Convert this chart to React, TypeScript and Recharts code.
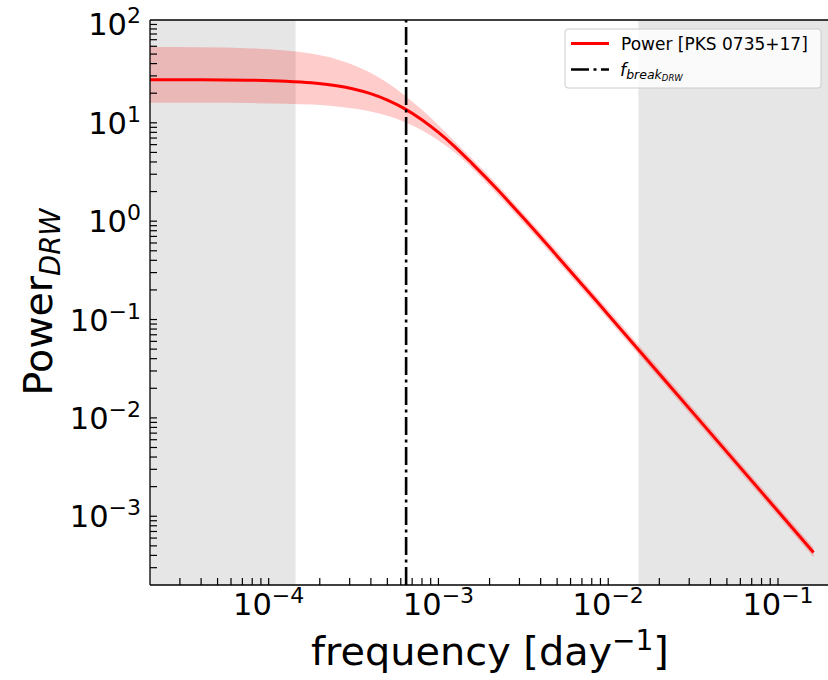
import React from "react";
import {
  ComposedChart,
  Area,
  Line,
  XAxis,
  YAxis,
  ReferenceArea,
  ReferenceLine,
} from "recharts";

// ---- data ----
const freq = [
  2.0e-5, 3.98e-5, 7.94e-5, 1.26e-4, 1.78e-4, 2.51e-4, 3.16e-4, 3.98e-4, 5.01e-4,
  6.31e-4, 7.94e-4, 1.0e-3, 1.26e-3, 1.58e-3, 2.24e-3, 3.16e-3, 5.01e-3, 1.0e-2,
  3.16e-2, 1.0e-1, 1.62e-1,
];
const power = [
  27.47, 27.39, 27.08, 26.47, 25.53, 23.83, 22.1, 19.82, 17.04, 13.94, 10.82, 7.99,
  5.64, 3.85, 2.075, 1.081, 0.441, 0.1121, 0.01125, 0.001125, 0.000428,
];
const powerUpper = [
  58.9, 58.5, 57.1, 54.5, 50.6, 44.4, 38.7, 32.2, 25.5, 19.1, 13.7, 9.46, 6.35,
  4.32, 2.32, 1.21, 0.494, 0.1256, 0.0126, 0.00126, 0.000479,
];
const powerLower = [
  16.0, 15.96, 15.86, 15.65, 15.31, 14.69, 14.01, 13.06, 11.8, 10.22, 8.44, 6.61,
  4.93, 3.44, 1.85, 0.965, 0.394, 0.1001, 0.01005, 0.001005, 0.000382,
];

const fBreak = 6.45e-4;
const lowGrayRange = [2.0e-5, 1.44e-4];
const highGrayRange = [0.01506, 0.197];

const xDomain = [2.0e-5, 0.197];
const yDomain = [2.0e-4, 111];

const xMajorTicks = [1e-4, 1e-3, 1e-2, 1e-1];
const xMajorLabels = ["−4", "−3", "−2", "−1"];
const xMinorTicks = [
  3e-5, 4e-5, 5e-5, 6e-5, 7e-5, 8e-5, 9e-5,
  2e-4, 3e-4, 4e-4, 5e-4, 6e-4, 7e-4, 8e-4, 9e-4,
  2e-3, 3e-3, 4e-3, 5e-3, 6e-3, 7e-3, 8e-3, 9e-3,
  2e-2, 3e-2, 4e-2, 5e-2, 6e-2, 7e-2, 8e-2, 9e-2,
];
const yMajorTicks = [1e-3, 1e-2, 1e-1, 1, 10, 100];
const yMajorLabels = ["−3", "−2", "−1", "0", "1", "2"];
const yMinorTicks = [
  3e-4, 4e-4, 5e-4, 6e-4, 7e-4, 8e-4, 9e-4,
  2e-3, 3e-3, 4e-3, 5e-3, 6e-3, 7e-3, 8e-3, 9e-3,
  2e-2, 3e-2, 4e-2, 5e-2, 6e-2, 7e-2, 8e-2, 9e-2,
  2e-1, 3e-1, 4e-1, 5e-1, 6e-1, 7e-1, 8e-1, 9e-1,
  2, 3, 4, 5, 6, 7, 8, 9,
  20, 30, 40, 50, 60, 70, 80, 90,
];

const legendLabels = ["Power [PKS 0735+17]", "f", "break", "DRW"];
const xLabel = ["frequency [day", "−1", "]"];
const yLabel = ["Power", "DRW"];

const data = freq.map((f, i) => ({
  f,
  p: power[i],
  band: [powerLower[i], powerUpper[i]],
}));

const FONT = "DejaVu Sans";
const W = 828;
const H = 680;

const xTicks = [...xMajorTicks, ...xMinorTicks].sort((a, b) => a - b);
const yTicks = [...yMajorTicks, ...yMinorTicks].sort((a, b) => a - b);

const findMajor = (arr: number[], v: number) =>
  arr.findIndex((m) => Math.abs(m - v) / m < 1e-9);

const XTick = (props: any) => {
  const { x, y, payload } = props;
  const mi = findMajor(xMajorTicks, payload.value);
  return (
    <g>
      <line x1={x} x2={x} y1={y} y2={y - 7} stroke="#000" strokeWidth={1.2} />
      {mi >= 0 && (
        <text
          x={x}
          y={y + 30}
          textAnchor="middle"
          fontSize={30.5}
          fontFamily={FONT}
          fill="#000"
        >
          10
          <tspan fontSize={22} dy={-12}>
            {xMajorLabels[mi]}
          </tspan>
        </text>
      )}
    </g>
  );
};

const YTick = (props: any) => {
  const { x, y, payload } = props;
  const mi = findMajor(yMajorTicks, payload.value);
  return (
    <g>
      <line x1={x} x2={x + 7} y1={y} y2={y} stroke="#000" strokeWidth={1.2} />
      {mi >= 0 && (
        <text
          x={x - 9}
          y={y + 11}
          textAnchor="end"
          fontSize={30.5}
          fontFamily={FONT}
          fill="#000"
        >
          10
          <tspan fontSize={22} dy={-12}>
            {yMajorLabels[mi]}
          </tspan>
        </text>
      )}
    </g>
  );
};

export default function App() {
  return (
    <div
      style={{
        position: "absolute",
        left: 0,
        top: 0,
        width: W,
        height: H,
        overflow: "hidden",
        background: "#ffffff",
      }}
    >
      <style>{`html, body { margin: 0; padding: 0; overflow: hidden; }`}</style>
      <ComposedChart
        width={W}
        height={H}
        data={data}
        margin={{ top: 20, right: 0, bottom: 0, left: 8 }}
      >
        <XAxis
          dataKey="f"
          type="number"
          scale="log"
          domain={xDomain}
          allowDataOverflow
          ticks={xTicks}
          interval={0}
          height={95}
          tickLine={false}
          tickSize={0}
          tickMargin={0}
          tick={(p: any) => <XTick {...p} />}
          axisLine={{ stroke: "#000", strokeWidth: 1.3 }}
        />
        <YAxis
          type="number"
          scale="log"
          domain={yDomain}
          allowDataOverflow
          ticks={yTicks}
          interval={0}
          width={142}
          tickLine={false}
          tickSize={0}
          tickMargin={0}
          tick={(p: any) => <YTick {...p} />}
          axisLine={{ stroke: "#000", strokeWidth: 1.3 }}
        />
        <ReferenceArea
          x1={lowGrayRange[0]}
          x2={lowGrayRange[1]}
          y1={yDomain[0]}
          y2={yDomain[1]}
          fill="#808080"
          fillOpacity={0.2}
          stroke="none"
          ifOverflow="hidden"
        />
        <ReferenceArea
          x1={highGrayRange[0]}
          x2={highGrayRange[1]}
          y1={yDomain[0]}
          y2={yDomain[1]}
          fill="#808080"
          fillOpacity={0.2}
          stroke="none"
          ifOverflow="hidden"
        />
        <Area
          dataKey="band"
          type="monotone"
          fill="#ff0000"
          fillOpacity={0.2}
          stroke="none"
          isAnimationActive={false}
          dot={false}
          activeDot={false}
        />
        <Line
          dataKey="p"
          type="monotone"
          stroke="#ff0000"
          strokeWidth={3}
          dot={false}
          activeDot={false}
          isAnimationActive={false}
        />
        <ReferenceLine
          x={fBreak}
          stroke="#000"
          strokeWidth={2.6}
          strokeDasharray="18 4.5 3 4.5"
        />
        <ReferenceLine y={yDomain[1]} stroke="#000" strokeWidth={1.3} />
      </ComposedChart>
      <svg
        width={W}
        height={H}
        style={{ position: "absolute", left: 0, top: 0, pointerEvents: "none" }}
      >
        {/* x axis label */}
        <text
          x={490}
          y={665}
          textAnchor="middle"
          fontSize={39.8}
          fontFamily={FONT}
          fill="#000"
        >
          {xLabel[0]}
          <tspan fontSize={28} dy={-15}>
            {xLabel[1]}
          </tspan>
          <tspan dy={15}>{xLabel[2]}</tspan>
        </text>
        {/* y axis label */}
        <text
          transform="translate(52, 302) rotate(-90)"
          textAnchor="middle"
          fontSize={39.5}
          fontFamily={FONT}
          fill="#000"
        >
          {yLabel[0]}
          <tspan fontSize={27.5} fontStyle="italic" dy={8}>
            {yLabel[1]}
          </tspan>
        </text>
        {/* legend */}
        <rect
          x={565}
          y={29}
          width={256}
          height={59}
          rx={3}
          fill="#ffffff"
          fillOpacity={0.8}
          stroke="#cccccc"
          strokeWidth={1}
        />
        <line x1={571} x2={609} y1={43.5} y2={43.5} stroke="#ff0000" strokeWidth={3} />
        <text x={621} y={49.5} fontSize={17} fontFamily={FONT} fill="#000">
          {legendLabels[0]}
        </text>
        <line
          x1={571}
          x2={609}
          y1={69.5}
          y2={69.5}
          stroke="#000"
          strokeWidth={2.5}
          strokeDasharray="18 4.5 3 4.5"
        />
        <text
          x={620}
          y={75.5}
          fontSize={17.5}
          fontFamily={FONT}
          fontStyle="italic"
          fill="#000"
        >
          {legendLabels[1]}
          <tspan fontSize={12.5} dy={3}>
            {legendLabels[2]}
          </tspan>
          <tspan fontSize={8.5} dy={2.5}>
            {legendLabels[3]}
          </tspan>
        </text>
      </svg>
    </div>
  );
}
